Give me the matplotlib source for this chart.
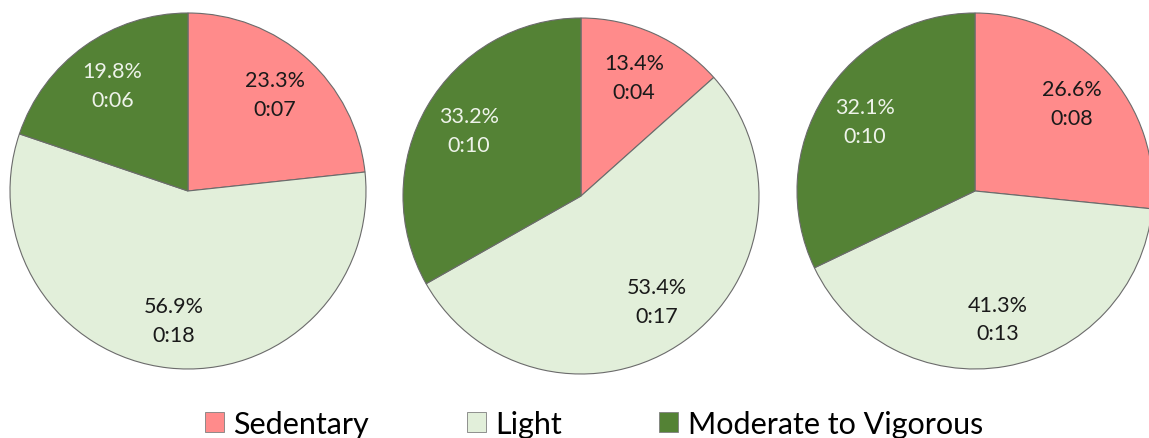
import numpy as np
import matplotlib
matplotlib.use("Agg")
import matplotlib.pyplot as plt
from matplotlib.patches import Patch

plt.rcParams['font.family'] = ['Lato', 'DejaVu Sans']

categories = ["Sedentary", "Light", "Moderate to Vigorous"]
colors = ["#FF8B8B", "#E2EFDA", "#548235"]
text_colors = ["#1a1a1a", "#1a1a1a", "#EEF3EA"]

pct_1 = [23.3, 56.9, 19.8]
pct_2 = [13.4, 53.4, 33.2]
pct_3 = [26.6, 41.3, 32.1]
time_1 = ["0:07", "0:18", "0:06"]
time_2 = ["0:04", "0:17", "0:10"]
time_3 = ["0:08", "0:13", "0:10"]

W, H = 1149, 439
fig = plt.figure(figsize=(W / 100, H / 100), dpi=100)
ax = fig.add_axes([0, 0, 1, 1])

radius = 178
centers = [(188, H - 192), (581, H - 197), (975, H - 192)]

for (cx, cy), pcts, times in zip(centers, [pct_1, pct_2, pct_3], [time_1, time_2, time_3]):
    wedges, _ = ax.pie(pcts, colors=colors, startangle=90, counterclock=False,
                       center=(cx, cy), radius=radius, frame=True,
                       wedgeprops=dict(edgecolor="#6b6b6b", linewidth=0.8))
    for w, p, t, tc in zip(wedges, pcts, times, text_colors):
        mid = np.deg2rad((w.theta1 + w.theta2) / 2)
        r = 0.73 * radius
        ax.text(cx + r * np.cos(mid), cy + r * np.sin(mid), f"{p:.1f}%\n{t}",
                ha="center", va="center", fontsize=15.5, color=tc, linespacing=1.55)

ax.set_xlim(0, W)
ax.set_ylim(0, H)
ax.set_aspect("equal")
ax.axis("off")

handles = [Patch(facecolor=c, edgecolor="#7f7f7f", linewidth=0.6) for c in colors]
fig.legend(handles, categories, loc="center", bbox_to_anchor=(0.517, 1 - 425 / H),
           ncol=3, frameon=False, fontsize=22, handlelength=0.62, handleheight=0.62,
           handletextpad=0.3, columnspacing=3.2)

fig.savefig("out.png", dpi=100)
